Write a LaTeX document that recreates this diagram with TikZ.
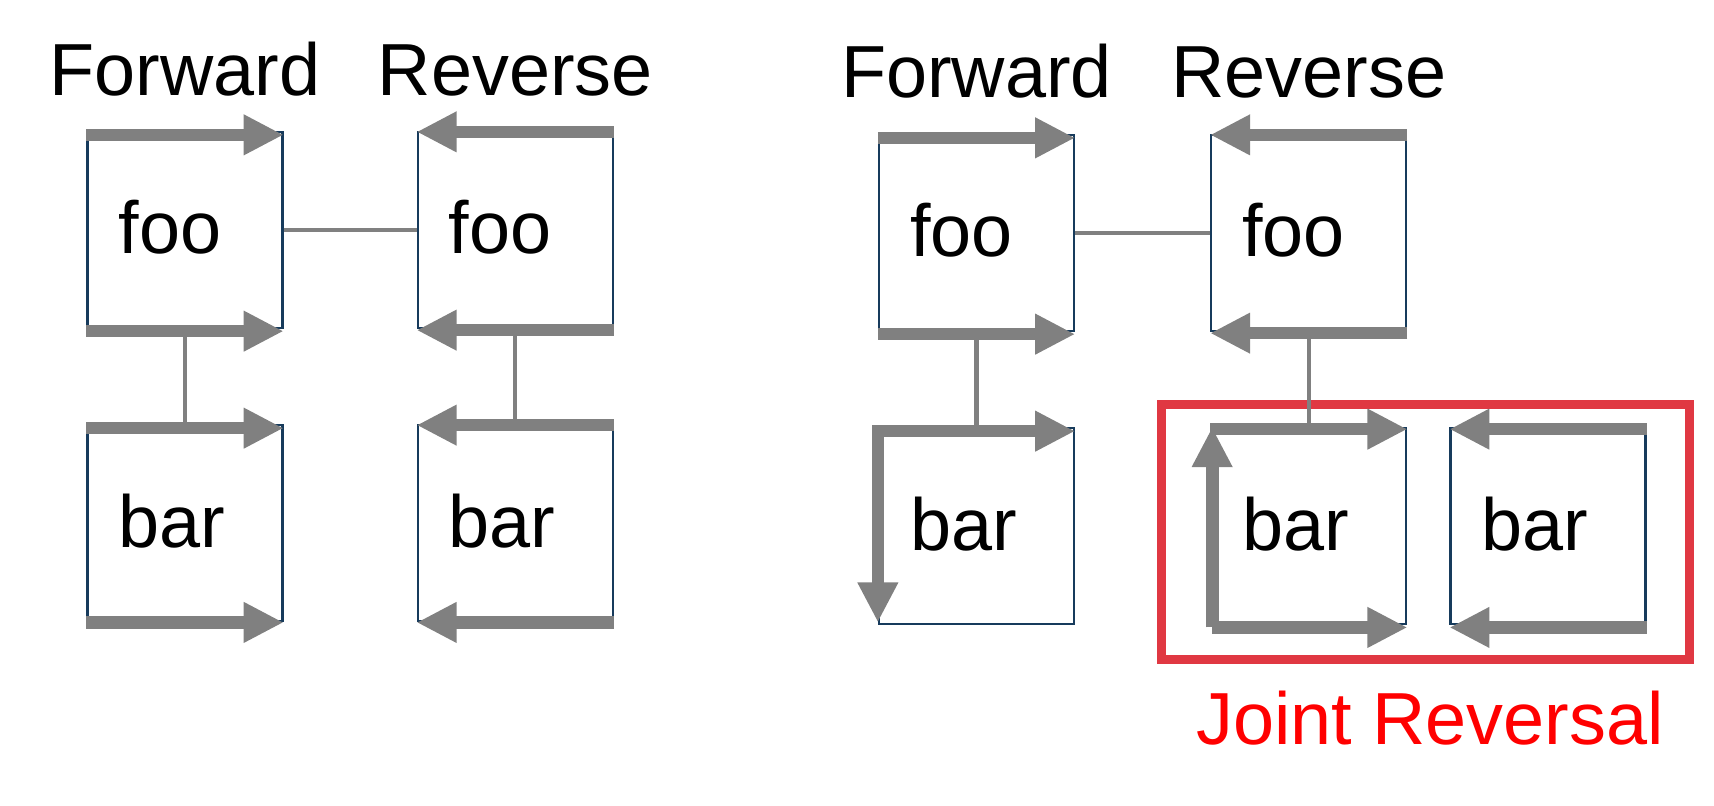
\documentclass[tikz,border=0pt]{standalone}
\usepackage{fontspec}
\setmainfont{Liberation Sans}
\usepackage{xcolor}
\usepackage{tikz}
\usetikzlibrary{arrows.meta,positioning,fit,calc}

\definecolor{edgeblue}{RGB}{23,59,92}
\definecolor{flowgray}{RGB}{128,128,128}
\definecolor{framered}{RGB}{224,56,66}
\definecolor{labelred}{RGB}{255,0,0}

\begin{document}
\begin{tikzpicture}[
  font=\fontsize{21pt}{25pt}\selectfont,
  box/.style   = {draw=edgeblue, line width=0.65pt, rectangle,
                  minimum width=1.95cm, minimum height=1.96cm,
                  text width=1.33cm, inner xsep=0.31cm, inner ysep=0pt,
                  align=left, text height=0.6cm, text depth=0.12cm},
  title/.style = {inner sep=0pt},
  flow/.style  = {draw=flowgray, line width=0.127cm,
                  -{Triangle[length=0.4cm, width=0.38cm]}},
  link/.style  = {draw=flowgray, line width=0.042cm},
  frame/.style = {draw=framered, line width=0.09cm, inner sep=0pt},
  redlabel/.style = {text=labelred, inner sep=0pt},
]
\useasboundingbox (0,0) rectangle (17.14,8.05);

%% --- left pair: forward and reverse ---
\node[box] (fooF1) at (1.85,5.75) {foo};
\node[box, right=1.33cm of fooF1] (fooR1) {foo};
\node[box, below=0.95cm of fooF1] (barF1) {bar};
\node[box, below=0.95cm of fooR1] (barR1) {bar};

\node[title, above=0.35cm of fooF1.north, anchor=base] (fwd1) {Forward};
\node[title, above=0.35cm of fooR1.north, anchor=base] (rev1) {Reverse};

%% --- right pair: bar reversed jointly ---
\node[box] (fooF2) at (9.765,5.72) {foo};
\node[box, right=1.35cm of fooF2] (fooR2) {foo};
\node[box, below=0.95cm of fooF2] (barF2) {bar};
\node[box, below=0.95cm of fooR2] (barR2) {bar};
\node[box, right=0.42cm of barR2] (barJ) {bar};

\node[title, above=0.36cm of fooF2.north, anchor=base] (fwd2) {Forward};
\node[title, above=0.36cm of fooR2.north, anchor=base] (rev2) {Reverse};

%% --- joint reversal frame ---
\coordinate (jnw) at ([xshift=-4.9mm, yshift=2.3mm]barR2.north west);
\coordinate (jse) at ([xshift=4.3mm, yshift=-3.4mm]barJ.south east);
\node[frame, fit=(jnw)(jse)] (joint) {};
\node[redlabel, below=0.81cm of joint.south, anchor=base, xshift=0.45mm]
  (jlabel) {Joint Reversal};

%% --- links ---
\draw[link] (fooF1.east)  -- (fooR1.west);
\draw[link] (fooF1.south) -- (barF1.north);
\draw[link] (fooR1.south) -- (barR1.north);
\draw[link] (fooF2.east)  -- (fooR2.west);
\draw[link] (fooF2.south) -- (barF2.north);
\draw[link] (fooR2.south) -- (barR2.north);

%% --- forward sweeps ---
\draw[flow] ([yshift=-0.4mm]fooF1.north west) -- ([yshift=-0.4mm]fooF1.north east);
\draw[flow] ([yshift=-0.2mm]fooF1.south west) -- ([yshift=-0.2mm]fooF1.south east);
\draw[flow] ([yshift=-0.4mm]barF1.north west) -- ([yshift=-0.4mm]barF1.north east);
\draw[flow] (barF1.south west) -- (barF1.south east);
\draw[flow] ([yshift=-0.4mm]fooF2.north west) -- ([yshift=-0.4mm]fooF2.north east);
\draw[flow] ([yshift=-0.2mm]fooF2.south west) -- ([yshift=-0.2mm]fooF2.south east);
\draw[flow] ([yshift=-0.4mm]barF2.north west) -- ([yshift=-0.4mm]barF2.north east);
\draw[flow] ([yshift=0.2mm]barF2.north west) -- ([yshift=0.3mm]barF2.south west);
\draw[flow] ([xshift=0.2mm, yshift=-0.2mm]barR2.south west) -- ([xshift=0.2mm]barR2.north west);
\draw[flow] ([yshift=-0.2mm]barR2.north west) -- ([yshift=-0.2mm]barR2.north east);
\draw[flow] ([xshift=0.2mm, yshift=-0.2mm]barR2.south west) -- ([yshift=-0.2mm]barR2.south east);

%% --- reverse sweeps ---
\draw[flow] ([yshift=-0.1mm]fooR1.north east) -- ([yshift=-0.1mm]fooR1.north west);
\draw[flow] ([yshift=-0.1mm]fooR1.south east) -- ([yshift=-0.1mm]fooR1.south west);
\draw[flow] ([yshift=-0.1mm]barR1.north east) -- ([yshift=-0.1mm]barR1.north west);
\draw[flow] (barR1.south east) -- (barR1.south west);
\draw[flow] ([yshift=-0.1mm]fooR2.north east) -- ([yshift=-0.1mm]fooR2.north west);
\draw[flow] ([yshift=-0.1mm]fooR2.south east) -- ([yshift=-0.1mm]fooR2.south west);
\draw[flow] ([yshift=-0.2mm]barJ.north east) -- ([yshift=-0.2mm]barJ.north west);
\draw[flow] ([yshift=-0.2mm]barJ.south east) -- ([yshift=-0.2mm]barJ.south west);
\end{tikzpicture}
\end{document}
